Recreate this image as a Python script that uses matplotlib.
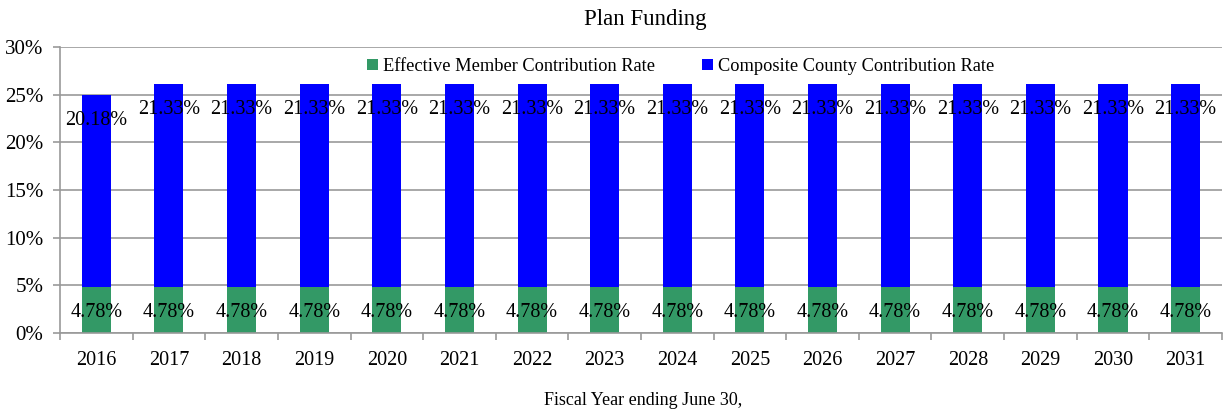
import matplotlib
matplotlib.use('Agg')
import matplotlib.pyplot as plt
import numpy as np

# data
years = ['2016', '2017', '2018', '2019', '2020', '2021', '2022', '2023',
         '2024', '2025', '2026', '2027', '2028', '2029', '2030', '2031']
member_rate = [4.78] * 16
county_rate = [20.18] + [21.33] * 15

plt.rcParams['font.family'] = ['Liberation Serif', 'DejaVu Serif']

fig = plt.figure(figsize=(12.25, 4.15), dpi=100)
ax = fig.add_axes([0.049, 0.1976, 0.9485, 0.689])

x = np.arange(len(years))
green = '#339966'
blue = '#0000FF'
b1 = ax.bar(x, member_rate, width=0.4, color=green, zorder=2,
            label='Effective Member Contribution Rate')
b2 = ax.bar(x, county_rate, width=0.4, bottom=member_rate, color=blue, zorder=2,
            label='Composite County Contribution Rate')

# labels near the top of each segment
for i in range(len(years)):
    ax.annotate('%.2f%%' % member_rate[i], (x[i], member_rate[i]),
                xytext=(0, -18), textcoords='offset points',
                ha='center', va='center', fontsize=14.5, zorder=3)
    ax.annotate('%.2f%%' % county_rate[i], (x[i], member_rate[i] + county_rate[i]),
                xytext=(0, -18), textcoords='offset points',
                ha='center', va='center', fontsize=14.5, zorder=3)

ax.set_ylim(0, 30)
ax.set_xlim(-0.5, len(years) - 0.5)
ax.set_yticks(np.arange(0, 31, 5))
ax.set_yticklabels(['%d%%' % v for v in range(0, 31, 5)], fontsize=15)
ax.yaxis.grid(True, color='#999999', linewidth=1.2, zorder=0)
ax.set_axisbelow(True)

ax.set_xticks(x)
ax.set_xticklabels(years, fontsize=14.5)
ax.set_xticks(np.arange(-0.5, len(years), 1), minor=True)
ax.tick_params(axis='x', which='major', length=0, pad=13)
ax.tick_params(axis='x', which='minor', length=5, color='#999999', width=1.2)
ax.tick_params(axis='y', length=5, color='#999999', width=1.2, pad=7)

for s in ['top', 'right']:
    ax.spines[s].set_visible(False)
for s in ['left', 'bottom']:
    ax.spines[s].set_color('#999999')
    ax.spines[s].set_linewidth(1.2)

ax.legend(loc='upper center', bbox_to_anchor=(0.534, 1.0), ncol=2, frameon=False,
          fontsize=13.2, handlelength=0.6, handleheight=0.6, handletextpad=0.25,
          columnspacing=2.6, borderaxespad=0.2)

fig.text(0.527, 0.954, 'Plan Funding', ha='center', va='center', fontsize=16.5)
fig.text(0.525, 0.034, 'Fiscal Year ending June 30,', ha='center', va='center', fontsize=13)

fig.savefig('out.png', dpi=100)
